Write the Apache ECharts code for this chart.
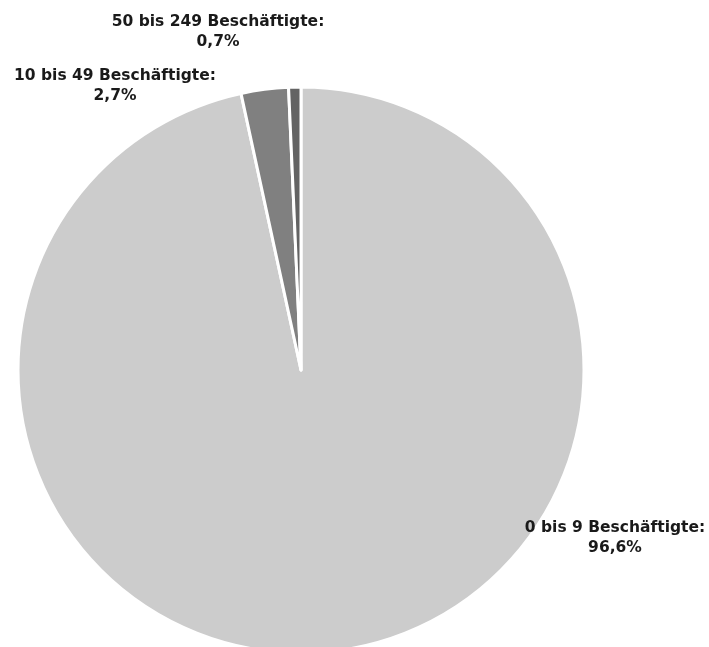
<!DOCTYPE html>
<html>
<head>
<meta charset="utf-8">
<script src="https://cdn.jsdelivr.net/npm/echarts@6/dist/echarts.min.js"></script>
<style>
  html, body { margin: 0; padding: 0; background: #fff; }
  #chart { width: 709px; height: 647px; }
</style>
</head>
<body>
<div id="chart"></div>
<script>
const categories = ["0 bis 9 Beschäftigte", "10 bis 49 Beschäftigte", "50 bis 249 Beschäftigte"];
const shares = [96.6, 2.7, 0.7];
const colors = ["#cccccc", "#808080", "#636363"];

// label anchor (text centre) per slice
const labelPos = [[615, 538], [115, 86], [218, 32]];

const chart = echarts.init(document.getElementById("chart"));
chart.setOption({
  animation: false,
  series: [{
    type: "pie",
    center: [301, 370],
    radius: 283,
    startAngle: 90,
    clockwise: true,
    data: categories.map((name, i) => ({ name, value: shares[i], itemStyle: { color: colors[i] } })),
    itemStyle: { borderColor: "#fff", borderWidth: 3 },
    label: {
      show: true,
      position: "outside",
      formatter: p => `${p.name}:\n${p.value.toFixed(1).replace(".", ",")}%`,
      fontFamily: "DejaVu Sans",
      fontWeight: "bold",
      fontSize: 15.5,
      lineHeight: 20,
      color: "#1a1a1a",
      align: "center",
      overflow: "none",
      width: 300,
    },
    labelLine: { show: false },
    labelLayout: p => ({
      x: labelPos[p.dataIndex][0],
      y: labelPos[p.dataIndex][1],
      align: "center",
      verticalAlign: "middle",
    }),
    emphasis: { disabled: true },
  }],
});
</script>
</body>
</html>
